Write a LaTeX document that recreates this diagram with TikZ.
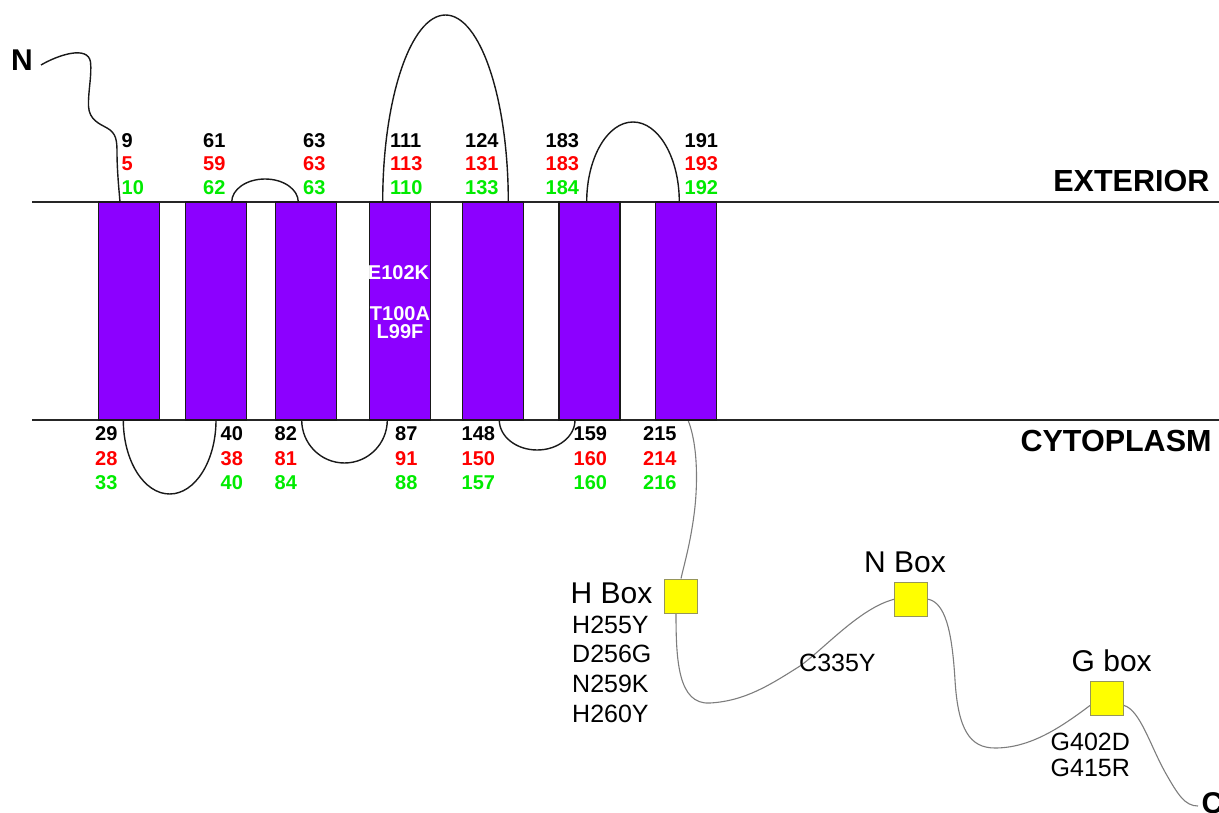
\documentclass[tikz,border=0pt]{standalone}
\usepackage{fontspec}
\setmainfont{Liberation Sans}
\definecolor{tmviolet}{RGB}{140,0,255}
\definecolor{numred}{RGB}{255,0,0}
\definecolor{numgreen}{RGB}{0,235,0}
\definecolor{tailgray}{RGB}{125,125,125}
\definecolor{motifyellow}{RGB}{255,255,0}
\definecolor{motifedge}{RGB}{150,150,90}
\tikzset{
  membrane/.style={line width=1.5pt, draw=black!85},
  loopline/.style={line width=1.4pt, draw=black!90},
  tail/.style={line width=1.1pt, draw=tailgray},
  tmbox/.style={rectangle, draw=black!90, line width=1.3pt, fill=tmviolet,
    minimum width=61pt, minimum height=218pt, inner sep=0pt},
  motif/.style={rectangle, draw=motifedge, line width=0.9pt, fill=motifyellow,
    minimum width=33pt, minimum height=34pt, inner sep=0pt},
  num/.style={anchor=base west, inner sep=0pt, font=\fontsize{20}{24}\selectfont\bfseries},
  inlab/.style={anchor=base, inner sep=0pt, text=white, font=\fontsize{20}{24}\selectfont\bfseries},
  side/.style={anchor=base east, inner sep=0pt, font=\fontsize{30.5}{36}\selectfont\bfseries},
  term/.style={anchor=base west, inner sep=0pt, font=\fontsize{30}{36}\selectfont\bfseries},
  boxlab/.style={anchor=base west, inner sep=0pt, font=\fontsize{30}{36}\selectfont},
  mut/.style={anchor=base west, inner sep=0pt, font=\fontsize{25}{30}\selectfont},
}
\begin{document}
\begin{tikzpicture}[x=1pt,y=1pt]
\useasboundingbox (0,0) rectangle (1219,-813);

% membrane boundaries
\coordinate (extL) at (32,-202);
\coordinate (extR) at (1219,-202);
\coordinate (cytL) at (32,-420);
\coordinate (cytR) at (1219,-420);
\draw[membrane] (extL) -- (extR);
\draw[membrane] (cytL) -- (cytR);

% N-terminal tail
\coordinate (nterm) at (41,-65);
\coordinate (t1) at (120,-202);
\draw[loopline] (nterm) .. controls (58,-55) and (88,-45) .. (90.5,-62)
  .. controls (92,-75) and (88,-92) .. (88.5,-106)
  .. controls (89,-120) and (100,-124) .. (107,-128)
  .. controls (116,-133) and (117,-140) .. (117,-152)
  .. controls (117,-170) and (119,-190) .. (t1);

% extracellular loops
\coordinate (e1) at (231.7,-202);
\coordinate (e2) at (382.7,-202);
\coordinate (e3) at (586.7,-202);
\draw[loopline] (e1) arc[start angle=180, end angle=0, x radius=33.3pt, y radius=23pt];
\draw[loopline] (e2) arc[start angle=180, end angle=0, x radius=62.8pt, y radius=187pt];
\draw[loopline] (e3) arc[start angle=180, end angle=0, x radius=46.3pt, y radius=80pt];

% cytoplasmic loops
\coordinate (i1) at (123.3,-420);
\coordinate (i2) at (301.7,-420);
\coordinate (i3) at (499.3,-420);
\draw[loopline] (i1) arc[start angle=180, end angle=360, x radius=46.35pt, y radius=74pt];
\draw[loopline] (i2) arc[start angle=180, end angle=360, x radius=42.8pt, y radius=43pt];
\draw[loopline] (i3) arc[start angle=180, end angle=360, x radius=37.85pt, y radius=30pt];

% conserved motif boxes
\node[motif] (hb) at (681,-596) {};
\node[motif] (nb) at (911.3,-599.2) {};
\node[motif] (gb) at (1107,-698) {};

% C-terminal tail
\coordinate (c0) at (688,-420);
\coordinate (cend) at (1198,-806);
\draw[tail] (c0) .. controls (698,-445) and (698,-485) .. (694,-515)
  .. controls (690,-545) and (684,-565) .. (hb.north);
\draw[tail] ([xshift=-5pt]hb.south) .. controls (676,-660) and (678,-705) .. (710,-703)
  .. controls (745,-701) and (770,-685) .. (800,-666)
  .. controls (825,-648) and (860,-608) .. (nb.west);
\draw[tail] (nb.east) .. controls (945,-603) and (952,-630) .. (955,-680)
  .. controls (958,-730) and (970,-748) .. (995,-748)
  .. controls (1030,-748) and (1060,-728) .. ([yshift=10pt]gb.south west);
\draw[tail] ([yshift=10pt]gb.south east) .. controls (1140,-710) and (1150,-745) .. (1165,-772)
  .. controls (1178,-795) and (1185,-806) .. (cend);

% redraw motif boxes above the tail
\node[motif] at (hb) {};
\node[motif] at (nb) {};
\node[motif] at (gb) {};

% transmembrane helices
\foreach \x [count=\i] in {129,216,306,400,493,589.5,686}
  \node[tmbox] (h\i) at (\x,-311) {};

% residue numbers, extracellular side
\foreach \x/\a/\b/\c [count=\i] in {121.5/9/5/10, 203/61/59/62, 303/63/63/63,
    390/111/113/110, 465/124/131/133, 545.5/183/183/184, 684.5/191/193/192} {
  \node[num] (ta\i) at (\x,-147.2) {\a};
  \node[num, text=numred] (tb\i) at (\x,-170.2) {\b};
  \node[num, text=numgreen] (tc\i) at (\x,-194.2) {\c};
}
% residue numbers, cytoplasmic side
\foreach \x/\a/\b/\c [count=\i] in {95/29/28/33, 220.5/40/38/40, 274.5/82/81/84,
    395/87/91/88, 461.5/148/150/157, 573.5/159/160/160, 643/215/214/216} {
  \node[num] (ba\i) at (\x,-440) {\a};
  \node[num, text=numred] (bb\i) at (\x,-465) {\b};
  \node[num, text=numgreen] (bc\i) at (\x,-489) {\c};
}

% mutations inside helix 4
\node[inlab] (m1) at (398.5,-279.3) {E102K};
\node[inlab] (m2) at (400,-320.5) {T100A};
\node[inlab] (m3) at (400,-338.3) {L99F};

% side labels and termini
\node[side] (ext) at (1209.5,-191.7) {EXTERIOR};
\node[side] (cyt) at (1211.7,-451.7) {CYTOPLASM};
\node[term] (nlab) at (11,-70.6) {N};
\node[term] (clab) at (1201.5,-813.5) {C};

% motif labels and mutations
\node[boxlab] (hbl) at (570.5,-603.3) {H Box};
\node[boxlab] (nbl) at (864,-572.7) {N Box};
\node[boxlab] (gbl) at (1071.5,-671.5) {G box};
\node[mut] (hm1) at (572,-633.3) {H255Y};
\node[mut] (hm2) at (572,-662.7) {D256G};
\node[mut] (hm3) at (572,-692.7) {N259K};
\node[mut] (hm4) at (572,-722.3) {H260Y};
\node[mut] (nm1) at (799,-671) {C335Y};
\node[mut] (gm1) at (1050.5,-750) {G402D};
\node[mut] (gm2) at (1050.5,-776.7) {G415R};
\end{tikzpicture}
\end{document}
